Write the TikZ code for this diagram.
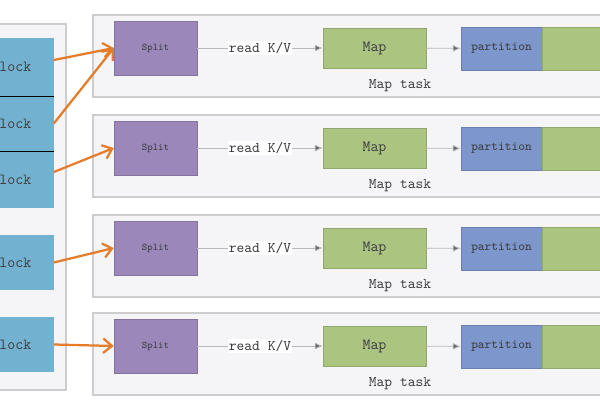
\documentclass[tikz,border=0pt]{standalone}
\usepackage{tikz}
\usetikzlibrary{arrows.meta}

\definecolor{blockblue}{RGB}{114,178,208}
\definecolor{splitpurple}{RGB}{155,135,185}
\definecolor{mapgreen}{RGB}{171,196,128}
\definecolor{partblue}{RGB}{125,151,205}
\definecolor{panelfill}{RGB}{245,245,247}
\definecolor{panelline}{RGB}{205,205,208}
\definecolor{arroworange}{RGB}{228,124,42}
\definecolor{textgray}{RGB}{60,60,64}

\tikzset{
    panel/.style={draw=panelline, line width=1.2pt, fill=panelfill},
    blockbox/.style={fill=blockblue, minimum width=1.55cm, text width=1.475cm,
        align=left, inner xsep=0.075cm, inner ysep=0pt,
        font=\ttfamily\fontsize{11}{13}\selectfont, text=textgray},
    splitbox/.style={fill=splitpurple, draw=splitpurple!85!black, line width=0.3pt,
        minimum width=2.075cm, minimum height=1.35cm, inner sep=0pt,
        font=\ttfamily\fontsize{7.3}{9}\selectfont, text=textgray},
    mapbox/.style={fill=mapgreen, draw=mapgreen!85!black, line width=0.3pt,
        minimum width=2.575cm, minimum height=1cm, inner sep=0pt,
        font=\ttfamily\fontsize{11}{13}\selectfont, text=textgray},
    partbox/.style={fill=partblue, draw=partblue!85!black, line width=0.3pt,
        minimum width=2.025cm, minimum height=1.075cm, inner sep=0pt,
        font=\ttfamily\fontsize{9.1}{11}\selectfont, text=textgray},
    tailbox/.style={fill=mapgreen, draw=mapgreen!85!black, line width=0.3pt,
        minimum width=1.75cm, minimum height=1.075cm, inner sep=0pt},
    flow/.style={draw=gray!55, line width=0.6pt, -{Latex[length=2mm,width=1.8mm,fill=gray!80!black]}},
    feed/.style={draw=arroworange, line width=1.6pt, -{Straight Barb[length=2.2mm,width=3.6mm]}},
    sepline/.style={draw=black, line width=0.9pt},
    tasklabel/.style={font=\ttfamily\fontsize{10.5}{12}\selectfont, text=textgray}
}

\begin{document}
\begin{tikzpicture}[x=0.025cm, y=-0.025cm]
    \useasboundingbox (0,0) rectangle (600,400);

    % input file with its blocks
    \draw[panel] (-10,24) rectangle (66,390);
    \node[blockbox, minimum height=1.45cm] (b1) at (21,67) {block};
    \node[blockbox, minimum height=1.375cm] (b2) at (21,123.5) {block};
    \node[blockbox, minimum height=1.425cm] (b3) at (21,179.5) {block};
    \node[blockbox, minimum height=1.375cm] (b4) at (21,262.5) {block};
    \node[blockbox, minimum height=1.375cm] (b5) at (21,344.5) {block};
    \draw[sepline] (b1.south west) -- (b1.south east);
    \draw[sepline] (b2.south west) -- (b2.south east);

    % map tasks
    \foreach \i/\top in {1/15,2/115,3/215,4/313} {
        \draw[panel] (93,\top) rectangle (615,\top+82);
        \node[splitbox] (split\i) at (155.5,\top+33) {Split};
        \node[mapbox] (map\i) at (374.5,\top+33) {Map};
        \node[partbox] (part\i) at (501.5,\top+33.5) {partition};
        \node[tailbox, anchor=west] (tail\i) at (part\i.east) {};
        \draw[flow] (split\i) -- node[fill=white, inner sep=1pt, tasklabel] {read K/V} (map\i);
        \draw[flow] (map\i) -- (part\i);
        \node[tasklabel] (task\i) at (400,\top+71) {Map task};
    }

    % blocks to splits
    \draw[feed] (b1.east |- 0,60) -- (split1.west);
    \draw[feed] (b2.east) -- (split1.west);
    \draw[feed] (b3.east |- 0,172) -- (split2.west);
    \draw[feed] (b4.east) -- (split3.west);
    \draw[feed] (b5.east) -- (split4.west);
\end{tikzpicture}
\end{document}
